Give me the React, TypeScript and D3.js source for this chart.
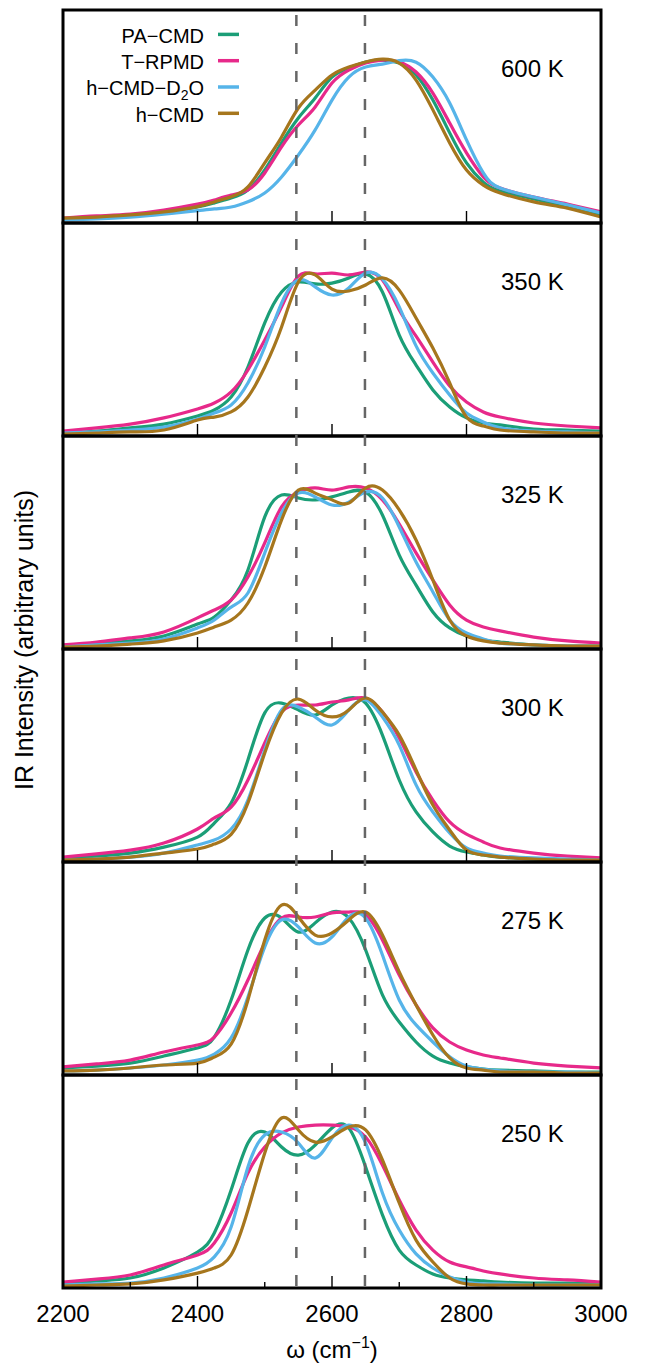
import React, { useEffect, useRef } from 'react';
import * as d3 from 'd3';

// wavenumber grid (cm^-1) shared by every curve
const wavenumbers = [2200, 2250, 2300, 2350, 2400, 2425, 2450, 2475, 2500, 2525, 2550, 2575, 2600,
  2625, 2650, 2675, 2700, 2725, 2750, 2775, 2800, 2825, 2850, 2900, 2950, 3000];

const panelLabels = ['600 K', '350 K', '325 K', '300 K', '275 K', '250 K'];

// one row per panel (600, 350, 325, 300, 275, 250 K), intensity in arbitrary units
const paCmd = [
  [1.9, 2.3, 3.3, 5.2, 7.5, 9.4, 11.7, 15.5, 24.9, 37.6, 49.3, 58.7, 68.5, 72.8, 75.6, 76.5, 75.1, 69.5, 57.7, 42.3, 28.2, 19.2, 15.0, 11.3, 7.5, 3.8],
  [1.4, 2.3, 3.8, 5.6, 9.4, 12.2, 18.3, 32.4, 53.1, 67.6, 72.3, 71.4, 71.8, 74.2, 76.1, 67.6, 47.4, 33.3, 21.6, 13.6, 8.5, 6.1, 5.2, 3.3, 2.8, 2.3],
  [1.4, 2.3, 3.8, 6.1, 11.7, 15.0, 23.0, 37.1, 62.0, 72.3, 70.9, 70.0, 71.4, 73.7, 73.7, 62.9, 44.1, 30.0, 17.4, 9.9, 6.1, 4.2, 3.3, 1.9, 1.4, 1.4],
  [1.9, 2.8, 4.2, 7.0, 11.7, 18.3, 27.7, 47.9, 70.0, 74.6, 71.4, 69.0, 73.7, 77.0, 74.6, 59.6, 38.5, 23.5, 14.1, 7.5, 4.7, 3.3, 2.3, 1.4, 0.9, 0.9],
  [3.3, 4.2, 5.6, 8.9, 12.7, 17.8, 35.2, 58.7, 73.7, 73.7, 67.1, 71.4, 76.5, 73.7, 58.7, 37.6, 24.9, 15.5, 8.9, 5.6, 3.8, 2.8, 2.3, 1.9, 1.4, 1.4],
  [1.9, 3.3, 4.7, 9.4, 16.9, 25.8, 46.0, 68.1, 73.2, 66.2, 62.4, 67.1, 75.1, 75.1, 56.8, 34.3, 17.8, 10.8, 6.6, 4.7, 3.8, 3.3, 2.8, 2.3, 2.3, 1.9],
];

const tRpmd = [
  [2.3, 3.3, 4.2, 6.1, 8.9, 10.8, 13.1, 15.5, 23.5, 35.7, 46.0, 54.5, 65.7, 71.8, 75.1, 76.5, 75.6, 70.9, 61.0, 46.9, 32.9, 21.6, 16.4, 12.2, 8.9, 5.2],
  [2.3, 3.8, 5.6, 8.5, 12.7, 15.5, 20.7, 31.0, 45.1, 60.6, 75.1, 76.1, 76.5, 75.6, 77.0, 73.2, 59.2, 46.9, 34.7, 23.5, 16.0, 11.3, 8.9, 6.1, 4.7, 3.8],
  [1.9, 3.3, 5.2, 8.0, 14.6, 18.3, 23.0, 33.8, 49.8, 66.7, 73.7, 75.6, 74.6, 76.1, 75.6, 70.0, 58.7, 45.1, 32.4, 20.7, 13.6, 10.3, 8.5, 5.6, 3.8, 2.8],
  [2.3, 3.8, 5.6, 8.9, 15.5, 20.7, 25.8, 38.5, 55.9, 70.4, 73.7, 73.7, 75.1, 76.1, 77.0, 70.4, 58.2, 42.3, 29.1, 18.8, 13.1, 9.4, 6.6, 4.2, 2.8, 1.9],
  [3.8, 5.2, 7.0, 10.8, 14.1, 17.8, 29.1, 44.6, 62.0, 73.7, 74.2, 74.2, 76.1, 76.5, 75.1, 63.4, 46.9, 32.9, 22.1, 15.5, 11.7, 9.4, 8.0, 5.6, 4.2, 3.3],
  [2.8, 4.2, 6.1, 10.8, 15.5, 21.1, 35.2, 54.0, 66.2, 72.8, 75.6, 76.5, 76.5, 75.6, 70.9, 57.7, 41.3, 27.2, 17.8, 12.2, 9.9, 8.0, 6.6, 4.7, 3.8, 2.8],
];

const hCmdD2o = [
  [1.4, 1.9, 2.8, 4.2, 5.8, 6.6, 7.5, 10.0, 14.1, 21.6, 31.9, 43.7, 57.7, 68.5, 73.2, 74.6, 76.2, 75.5, 68.5, 56.3, 39.0, 23.5, 16.4, 12.2, 8.5, 4.7],
  [1.4, 1.9, 2.8, 4.2, 8.0, 10.8, 14.6, 24.9, 41.8, 62.4, 73.2, 70.0, 66.2, 69.5, 76.5, 73.7, 60.6, 42.3, 29.6, 19.2, 10.8, 6.6, 3.8, 2.3, 1.9, 1.4],
  [0.9, 1.9, 2.8, 4.7, 9.9, 13.6, 19.7, 26.3, 45.1, 63.9, 73.2, 71.4, 67.6, 69.0, 73.7, 70.9, 57.3, 40.8, 26.8, 13.6, 7.5, 4.7, 2.8, 1.9, 1.4, 1.4],
  [0.9, 1.4, 2.3, 4.2, 8.0, 10.3, 15.5, 29.1, 52.6, 71.4, 72.8, 68.1, 64.3, 71.4, 76.1, 68.1, 54.9, 36.2, 23.5, 13.6, 6.6, 4.2, 2.8, 1.9, 1.4, 0.9],
  [1.9, 2.3, 3.3, 4.7, 7.0, 9.8, 17.4, 36.6, 60.1, 72.8, 69.5, 62.0, 64.8, 74.2, 73.7, 56.3, 35.2, 23.5, 15.5, 8.5, 4.2, 2.8, 1.9, 1.4, 1.4, 0.9],
  [1.4, 1.9, 2.3, 4.7, 9.4, 14.6, 28.6, 56.8, 71.8, 73.2, 68.1, 61.0, 70.4, 76.5, 68.1, 44.6, 27.2, 16.0, 9.4, 5.2, 2.8, 1.9, 1.9, 1.4, 1.4, 1.4],
];

const hCmd = [
  [2.3, 2.8, 3.8, 5.2, 7.7, 9.9, 12.3, 17.0, 28.2, 40.4, 54.0, 62.4, 69.5, 73.2, 75.6, 76.9, 75.1, 67.1, 53.1, 37.6, 24.9, 17.8, 14.1, 9.9, 7.0, 2.8],
  [0.9, 1.4, 1.9, 2.8, 7.5, 8.9, 11.3, 18.3, 32.4, 51.2, 72.3, 75.6, 69.0, 68.1, 70.9, 74.2, 68.5, 55.4, 41.3, 24.9, 8.9, 4.7, 2.8, 1.9, 1.4, 1.4],
  [0.9, 1.4, 2.3, 3.8, 7.5, 10.3, 13.6, 21.6, 38.5, 60.6, 74.6, 73.2, 70.0, 68.5, 75.6, 74.6, 65.3, 51.2, 32.4, 13.6, 6.1, 3.8, 2.8, 1.9, 1.4, 1.4],
  [0.9, 1.4, 2.3, 4.2, 6.1, 8.4, 13.0, 27.7, 51.2, 70.0, 76.5, 71.4, 68.1, 71.4, 77.0, 70.4, 59.6, 43.2, 26.8, 15.0, 5.6, 3.3, 2.3, 1.4, 0.9, 0.9],
  [1.9, 2.3, 3.3, 4.7, 5.6, 8.4, 14.5, 35.2, 63.4, 79.8, 74.2, 65.7, 66.7, 72.8, 76.5, 65.7, 48.4, 32.9, 18.8, 8.0, 3.3, 2.3, 1.4, 1.4, 0.9, 0.9],
  [0.9, 1.4, 1.9, 3.8, 7.0, 9.4, 15.5, 36.6, 63.4, 79.8, 74.2, 68.5, 70.9, 75.6, 74.2, 60.1, 39.9, 22.5, 12.2, 4.7, 1.9, 1.4, 1.4, 1.4, 1.4, 1.4],
];

const methodNames = ['PA−CMD', 'T−RPMD', 'h−CMD−D', 'h−CMD'];
const methodData = [paCmd, tRpmd, hCmdD2o, hCmd];
const methodColors = ['#1b9e77', '#e7298a', '#56b4e9', '#a6761d'];

const refLines = [2547, 2649]; // dashed guide lines
const xTicks = [2200, 2400, 2600, 2800, 3000];
const xMinorTicks = [2300, 2500, 2700, 2900];

const FONT = "'Liberation Sans', Arial, Helvetica, sans-serif";

export default function App() {
  const chartRef = useRef<SVGSVGElement>(null);

  useEffect(() => {
    const W = 645;
    const H = 1366;
    const margin = { top: 10, right: 44, bottom: 78, left: 63 };
    const width = W - margin.left - margin.right;
    const panelH = (H - margin.top - margin.bottom) / panelLabels.length;

    const svg = d3.select(chartRef.current);
    svg.selectAll('*').remove();

    const x = d3.scaleLinear().domain([2200, 3000]).range([margin.left, margin.left + width]);

    panelLabels.forEach((label, p) => {
      const top = margin.top + p * panelH;
      const y = d3.scaleLinear().domain([0, 100]).range([top + panelH, top]);
      const g = svg.append('g').attr('class', 'panel');

      const line = d3.line<number>()
        .curve(d3.curveNatural)
        .x((d, i) => x(wavenumbers[i]))
        .y((d) => y(d));

      methodData.forEach((series, m) => {
        g.append('path')
          .attr('d', line(series[p]))
          .attr('fill', 'none')
          .attr('stroke', methodColors[m])
          .attr('stroke-width', 3.2)
          .attr('stroke-linejoin', 'round');
      });

      // ticks on the bottom edge, pointing inward
      const isLast = p === panelLabels.length - 1;
      xTicks.slice(1, -1).forEach((t) => {
        g.append('line')
          .attr('x1', x(t)).attr('x2', x(t))
          .attr('y1', top + panelH).attr('y2', top + panelH - 12)
          .attr('stroke', '#000').attr('stroke-width', 1.4);
      });
      if (isLast) {
        xMinorTicks.forEach((t) => {
          g.append('line')
            .attr('x1', x(t)).attr('x2', x(t))
            .attr('y1', top + panelH).attr('y2', top + panelH - 6)
            .attr('stroke', '#000').attr('stroke-width', 1.4);
        });
      }

      g.append('rect')
        .attr('x', margin.left).attr('y', top)
        .attr('width', width).attr('height', panelH)
        .attr('fill', 'none').attr('stroke', '#000').attr('stroke-width', 3);

      g.append('text')
        .attr('x', 501).attr('y', top + 66.7)
        .style('font-family', FONT).style('font-size', '24px')
        .text(label);
    });

    // legend in the top panel
    const legend = svg.append('g');
    methodNames.forEach((name, m) => {
      const by = 42.7 + m * 26.3;
      const t = legend.append('text')
        .attr('x', 204).attr('y', by)
        .attr('text-anchor', 'end')
        .style('font-family', FONT).style('font-size', '20px')
        .text(name);
      if (m === 2) {
        t.append('tspan').attr('dy', 5).style('font-size', '14px').text('2');
        t.append('tspan').attr('dy', -5).style('font-size', '20px').text('O');
      }
      legend.append('line')
        .attr('x1', 218).attr('x2', 239)
        .attr('y1', by - 8.3).attr('y2', by - 8.3)
        .attr('stroke', methodColors[m]).attr('stroke-width', 3.5);
    });

    // dashed reference lines across all panels
    refLines.forEach((r) => {
      svg.append('line')
        .attr('x1', x(r)).attr('x2', x(r))
        .attr('y1', margin.top + 5).attr('y2', H - margin.bottom)
        .attr('stroke', '#666').attr('stroke-width', 2.5)
        .attr('stroke-dasharray', '11,17');
    });

    // x tick labels
    xTicks.forEach((t) => {
      svg.append('text')
        .attr('x', x(t)).attr('y', 1322)
        .attr('text-anchor', 'middle')
        .style('font-family', FONT).style('font-size', '24px')
        .text(t);
    });

    const xt = svg.append('text')
      .attr('x', margin.left + width / 2).attr('y', 1358)
      .attr('text-anchor', 'middle')
      .style('font-family', FONT).style('font-size', '24px')
      .text('ω (cm');
    xt.append('tspan').attr('dy', -10).style('font-size', '16px').text('−1');
    xt.append('tspan').attr('dy', 10).style('font-size', '24px').text(')');

    svg.append('text')
      .attr('transform', `translate(33,${margin.top + (H - margin.top - margin.bottom) / 2 - 9}) rotate(-90)`)
      .attr('text-anchor', 'middle')
      .style('font-family', FONT).style('font-size', '25px')
      .text('IR Intensity (arbitrary units)');
  }, []);

  return (
    <svg
      ref={chartRef}
      width={645}
      height={1366}
      style={{ position: 'absolute', left: 0, top: 0, background: '#fff' }}
    />
  );
}
